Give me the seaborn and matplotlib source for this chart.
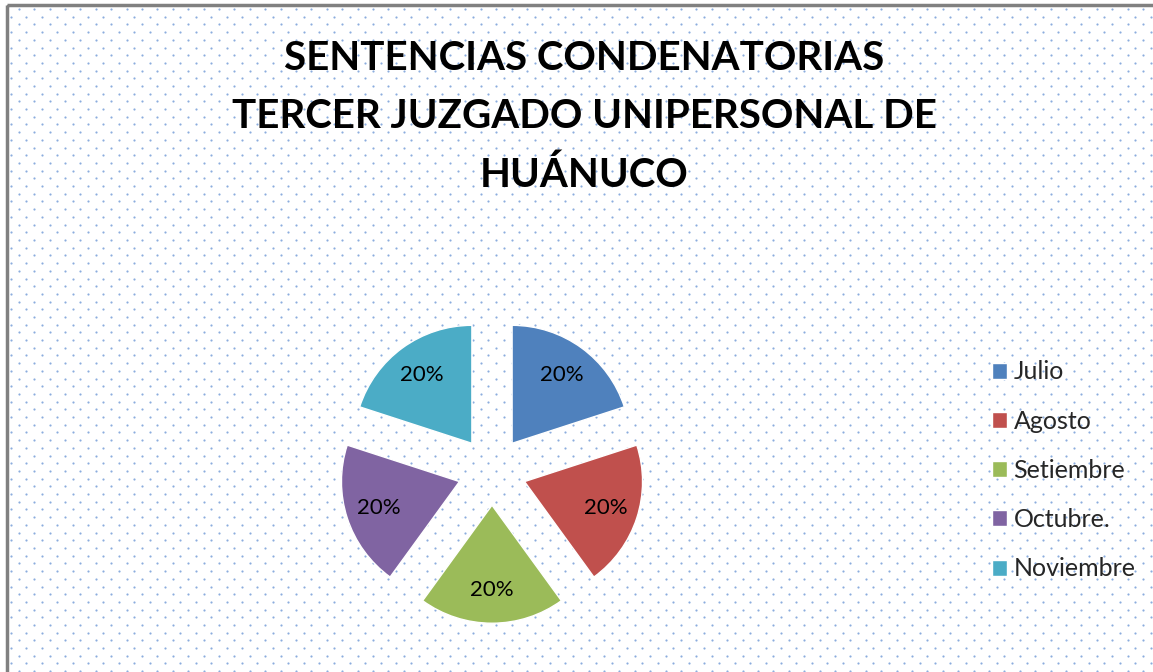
import numpy as np
import seaborn as sns
import matplotlib.pyplot as plt
from matplotlib.patches import Rectangle

meses = ["Julio", "Agosto", "Setiembre", "Octubre.", "Noviembre"]
sentencias = [1, 1, 1, 1, 1]
colores = ["#4F81BD", "#C0504D", "#9BBB59", "#8064A2", "#4BACC6"]
titulo = "SENTENCIAS CONDENATORIAS\nTERCER JUZGADO UNIPERSONAL DE\nHUÁNUCO"

sns.set_theme(style="white")
plt.rcParams['font.family'] = ['Lato', 'DejaVu Sans']

W, H = 1153, 672
fig = plt.figure(figsize=(W / 100, H / 100), dpi=100)

# dotted background + grey frame
bg = fig.add_axes([0, 0, 1, 1])
bg.set_xlim(0, W)
bg.set_ylim(H, 0)
bg.axis("off")
xs, ys = [], []
for i, y in enumerate(np.arange(9, H, 7.7)):
    off = 0 if i % 2 else 7.7
    for x in np.arange(11 + off, W, 15.4):
        xs.append(x)
        ys.append(y)
bg.scatter(xs, ys, s=2.5, color="#6f98d6", alpha=0.8, linewidths=0)
bg.add_patch(Rectangle((7, 5), W, H, fill=False, edgecolor="#808080", lw=2.5))

fig.text(0.507, 0.94, titulo, ha="center", va="top", fontsize=29,
         fontweight="bold", linespacing=1.7, color="black")

# pie
R = 118
cx, cy = 492, 471
half = 1.5 * R
ax = fig.add_axes([(cx - half) / W, (H - cy - half) / H, 2 * half / W, 2 * half / H])
wedges, texts, autotexts = ax.pie(
    sentencias, colors=sns.color_palette(colores), startangle=90, counterclock=False,
    explode=[0.29] * 5, autopct="%1.0f%%", pctdistance=0.72, radius=1,
    textprops=dict(fontsize=16, color="black"),
)
ax.set_xlim(-1.5, 1.5)
ax.set_ylim(-1.5, 1.5)
ax.axis("off")

fig.legend(wedges, meses, loc="center left", bbox_to_anchor=(0.841, 0.300),
           frameon=False, fontsize=18, handlelength=0.6, handleheight=0.6,
           handletextpad=0.25, labelspacing=1.05)

fig.savefig("out.png", dpi=100)
